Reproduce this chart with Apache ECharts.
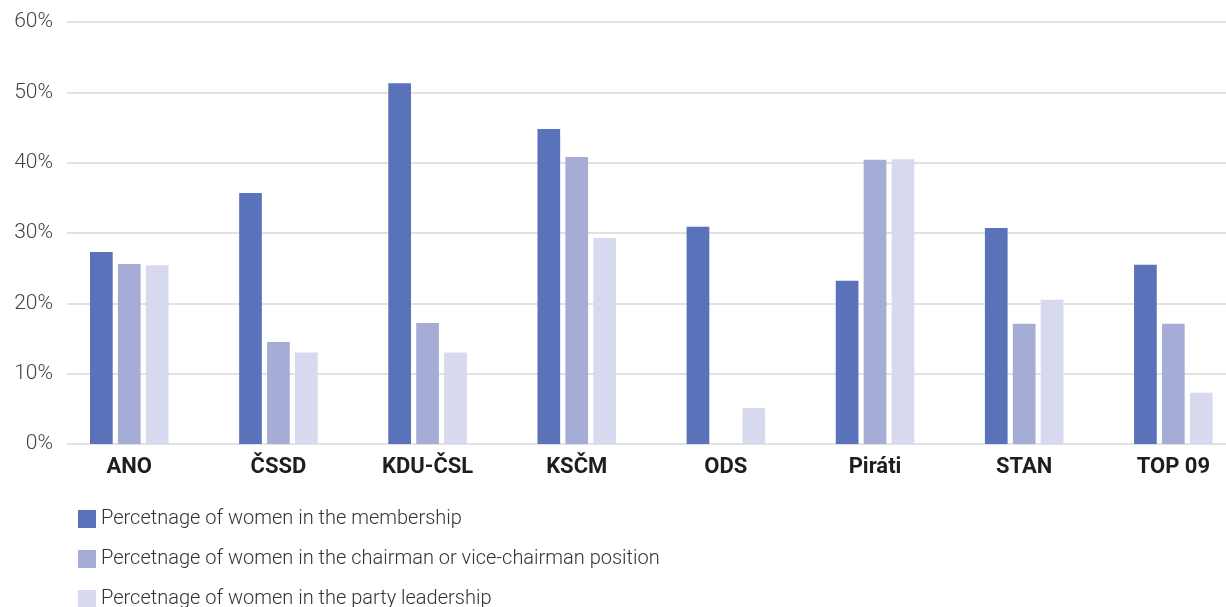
<!DOCTYPE html>
<html>
<head>
<meta charset="utf-8">
<script src="https://cdn.jsdelivr.net/npm/echarts@6/dist/echarts.min.js"></script>
<style>
html,body{margin:0;padding:0;background:#fff;}
#c{width:1226px;height:607px;}
</style>
</head>
<body>
<div id="c"></div>
<script>
const categories = ['ANO', 'ČSSD', 'KDU-ČSL', 'KSČM', 'ODS', 'Piráti', 'STAN', 'TOP 09'];
const seriesNames = [
  'Percetnage of women in the membership',
  'Percetnage of women in the chairman or vice-chairman position',
  'Percetnage of women in the party leadership'
];
const membership = [27.3, 35.7, 51.3, 44.8, 30.9, 23.2, 30.7, 25.5];
const chairman = [25.6, 14.5, 17.2, 40.8, 0, 40.4, 17.1, 17.1];
const leadership = [25.4, 13.0, 13.0, 29.3, 5.1, 40.5, 20.5, 7.3];
const yTicks = [0, 10, 20, 30, 40, 50, 60];

const colors = ['#5a72b9', '#a5acd6', '#d7d9ee'];
const chart = echarts.init(document.getElementById('c'));
const values = [membership, chairman, leadership];
const legendTops = [509, 549, 589];
const legendLefts = [78, 78, 78];

chart.setOption({
  animation: false,
  color: colors,
  grid: [
    { left: 54.7, width: 1193.2, top: 22, bottom: 163, outerBoundsMode: 'none', containLabel: false },
    { left: 67, right: 0, top: 22, bottom: 163, outerBoundsMode: 'none', containLabel: false }
  ],
  legend: seriesNames.map((name, i) => ({
    orient: 'vertical',
    left: legendLefts[i],
    top: legendTops[i],
    padding: 0,
    itemWidth: 18,
    itemHeight: 18,
    icon: 'rect',
    data: [name],
    textStyle: { fontFamily: 'Roboto', fontWeight: 300, fontSize: 20, color: '#333' }
  })),
  xAxis: [
    {
      type: 'category', gridIndex: 0, data: categories,
      axisLine: { show: false }, axisTick: { show: false },
      axisLabel: { fontFamily: 'Roboto', fontWeight: 'bold', fontSize: 22, color: '#1e1e1e', margin: 12 }
    },
    {
      type: 'category', gridIndex: 1, data: categories, show: false
    }
  ],
  yAxis: [
    {
      type: 'value', gridIndex: 0, min: 0, max: 60, interval: 10, show: false,
      splitLine: { show: false }
    },
    {
      type: 'value', gridIndex: 1, min: 0, max: 60, interval: 10,
      axisLine: { show: false }, axisTick: { show: false },
      splitLine: { lineStyle: { color: '#d9d9d9', width: 1.5 } },
      axisLabel: {
        fontFamily: 'Roboto', fontWeight: 300, fontSize: 21, color: '#444', margin: 14,
        formatter: v => yTicks.includes(v) ? v + '%' : ''
      }
    }
  ],
  series: seriesNames.map((name, i) => ({
    name, type: 'bar', xAxisIndex: 0, yAxisIndex: 0,
    data: values[i], barWidth: 22.7, barGap: '23%',
    itemStyle: { color: colors[i] }
  }))
});
</script>
</body>
</html>
